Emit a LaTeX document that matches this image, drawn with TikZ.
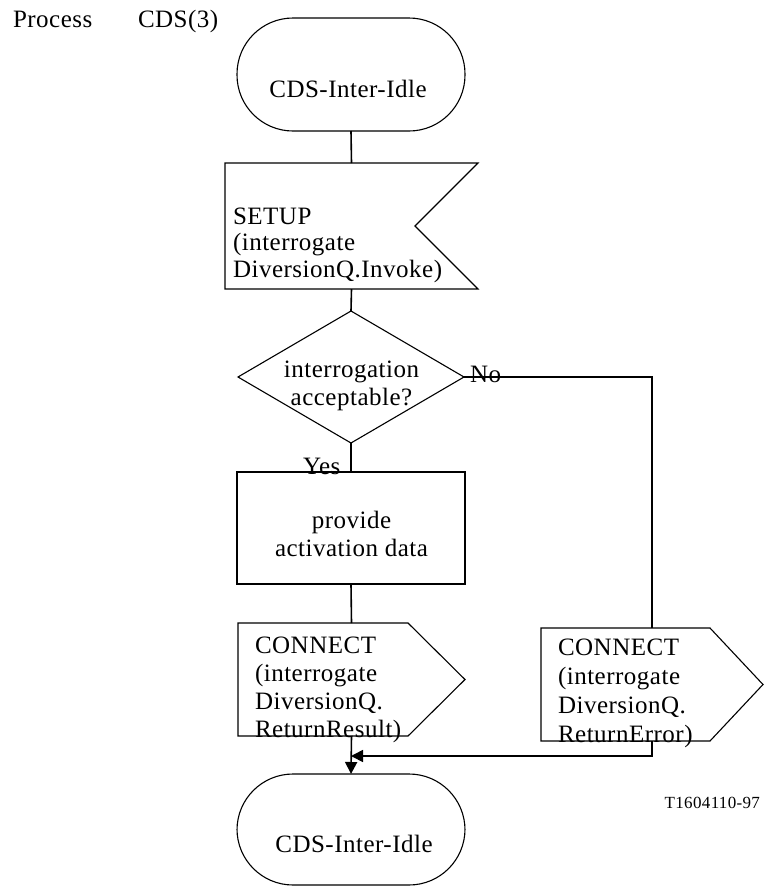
\documentclass[tikz,border=0pt]{standalone}
\usepackage{fontspec}
\setmainfont{Liberation Serif}[LetterSpace=2]
\usetikzlibrary{arrows.meta,calc}
\newcommand\ctrline[1]{\hbox to 0pt{\hss#1\hss}}
\begin{document}
\begin{tikzpicture}[x=1pt,y=-1pt,
  shapebox/.style={inner sep=0pt,outer sep=0pt},
  outline/.style={line width=1.1pt,line join=miter},
  terminal/.style={shapebox,draw,outline,rounded corners=56pt,minimum width=228pt},
  conn/.style={line width=1.6pt},
  arr/.style={conn,-{Triangle[length=12pt,width=12pt]}},
  txt/.style={inner sep=0pt,outer sep=0pt,font=\fontsize{25}{28}\selectfont},
  small/.style={inner sep=0pt,outer sep=0pt,font=\fontsize{17}{20}\selectfont}]
\useasboundingbox (0,0) rectangle (764,887);

% header
\node[txt,anchor=base west] (hproc) at (13,27) {Process};
\node[txt,anchor=base west] (hcds) at (138,27) {CDS(3)};

% start terminal
\node[terminal,minimum height=113pt] (start) at (351,74.5) {};
\node[txt,anchor=base] (starttxt) at (348,97) {CDS-Inter-Idle};

% input signal
\node[shapebox,minimum width=253pt,minimum height=126pt] (in) at (351.5,226) {};
\draw[outline] (in.north west) -- (in.north east) -- ($(in.east)+(-63,0)$)
  -- (in.south east) -- (in.south west) -- cycle;
\node[txt,font=\fontsize{25}{26.5}\selectfont,anchor=base west] (intxt) at (233,224)
  {\vtop{\hbox{SETUP}\hbox{(interrogate}\hbox{DiversionQ.Invoke)}}};

% decision
\node[shapebox,minimum width=226pt,minimum height=132pt] (dia) at (351,377) {};
\draw[outline] (dia.north) -- (dia.east) -- (dia.south) -- (dia.west) -- cycle;
\node[txt,anchor=base] (diatxt) at (351.5,377)
  {\vtop{\ctrline{interrogation}\ctrline{acceptable?}}};
\node[txt,anchor=base west] (no) at (470,382) {No};
\node[txt,anchor=base west] (yes) at (303,474) {Yes};

% process
\node[shapebox,draw,outline,minimum width=228pt,minimum height=112pt] (proc) at (351,528) {};
\node[txt,anchor=base] (proctxt) at (351.5,528)
  {\vtop{\ctrline{provide}\ctrline{activation data}}};

% output left
\node[shapebox,minimum width=227pt,minimum height=113pt] (outL) at (351.5,679.5) {};
\draw[outline] (outL.north west) -- ($(outL.north east)+(-57,0)$) -- (outL.east)
  -- ($(outL.south east)+(-57,0)$) -- (outL.south west) -- cycle;
\node[txt,anchor=base west] (outLtxt) at (255,653)
  {\vtop{\hbox{CONNECT}\hbox{(interrogate}\hbox{DiversionQ.}\hbox{ReturnResult)}}};

% output right
\node[shapebox,minimum width=222pt,minimum height=113pt] (outR) at (652,684.5) {};
\draw[outline] (outR.north west) -- ($(outR.north east)+(-53,0)$) -- (outR.east)
  -- ($(outR.south east)+(-53,0)$) -- (outR.south west) -- cycle;
\node[txt,font=\fontsize{25}{29}\selectfont,anchor=base west] (outRtxt) at (558,655)
  {\vtop{\hbox{CONNECT}\hbox{(interrogate}\hbox{DiversionQ.}\hbox{ReturnError)}}};

% end terminal
\node[terminal,minimum height=111pt] (end) at (351,829.5) {};
\node[txt,anchor=base] (endtxt) at (354,852) {CDS-Inter-Idle};

\node[small,anchor=base east] (ref) at (760,808) {T1604110-97};

% connectors
\coordinate (merge) at (351,756);
\draw[conn] (start.south) -- (in.north);
\draw[conn] (in.south) -- (dia.north);
\draw[conn] (dia.south) -- (proc.north);
\draw[conn] (proc.south) -- (outL.north);
\draw[arr] (outL.south) -- (end.north);
\draw[outline] (dia.east) -| (outR.north);
\draw[arr] (outR.south) |- (merge);
\end{tikzpicture}
\end{document}
